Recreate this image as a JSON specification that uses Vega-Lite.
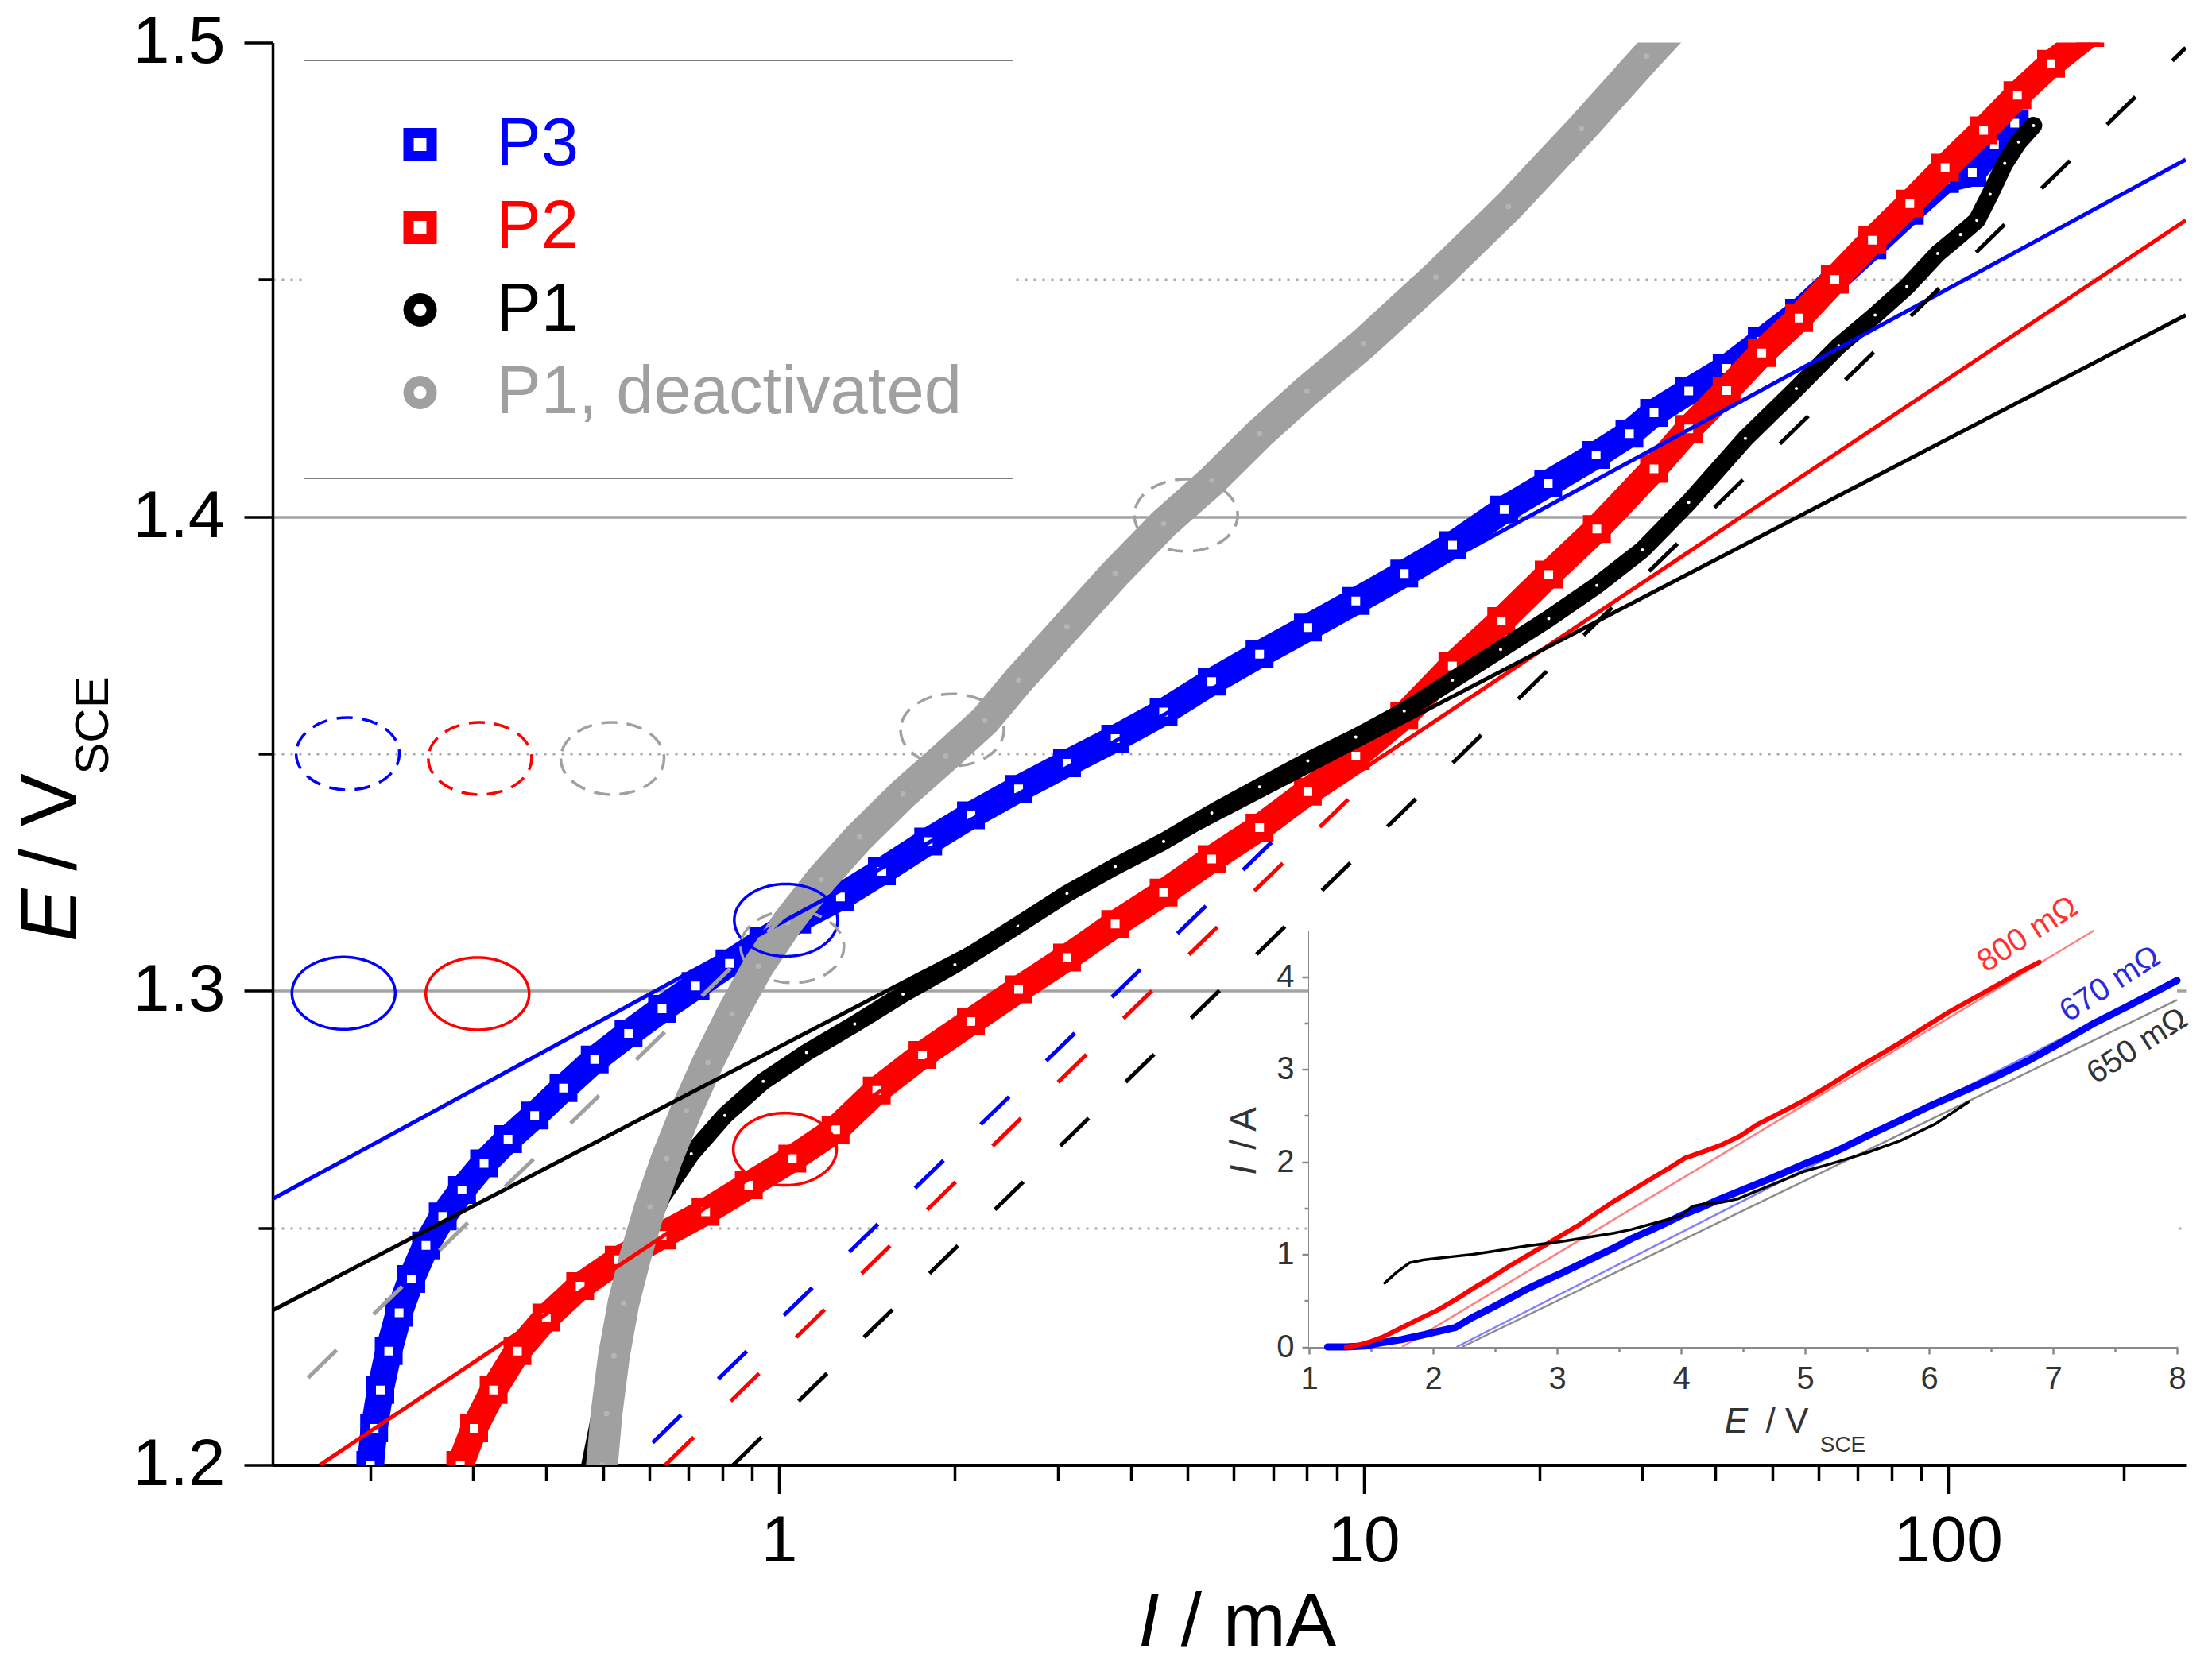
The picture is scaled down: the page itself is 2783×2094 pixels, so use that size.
{
  "$schema": "https://vega.github.io/schema/vega-lite/v6.json",
  "width": 2407,
  "height": 1790,
  "autosize": "none",
  "padding": {"left": 343, "top": 53.5, "right": 33, "bottom": 250.5},
  "background": "white",
  "config": {
    "view": {"stroke": null},
    "font": "Liberation Sans",
    "axis": {"labelFont": "Liberation Sans", "titleFont": "Liberation Sans", "titleFontWeight": "normal", "titleColor": "black", "labelColor": "black"},
    "legend": {"labelFont": "Liberation Sans"}
  },
  "datasets": {
    "bands": [
      {"series": "P3", "I": 0.200, "E": 1.2000}, {"series": "P3", "I": 0.203, "E": 1.2077}, {"series": "P3", "I": 0.208, "E": 1.2158},
      {"series": "P3", "I": 0.215, "E": 1.2240}, {"series": "P3", "I": 0.224, "E": 1.2321}, {"series": "P3", "I": 0.235, "E": 1.2392},
      {"series": "P3", "I": 0.249, "E": 1.2463}, {"series": "P3", "I": 0.266, "E": 1.2524}, {"series": "P3", "I": 0.287, "E": 1.2580},
      {"series": "P3", "I": 0.313, "E": 1.2636}, {"series": "P3", "I": 0.344, "E": 1.2687}, {"series": "P3", "I": 0.382, "E": 1.2737},
      {"series": "P3", "I": 0.428, "E": 1.2795}, {"series": "P3", "I": 0.484, "E": 1.2855}, {"series": "P3", "I": 0.553, "E": 1.2910},
      {"series": "P3", "I": 0.631, "E": 1.2962}, {"series": "P3", "I": 0.720, "E": 1.3010}, {"series": "P3", "I": 0.823, "E": 1.3058},
      {"series": "P3", "I": 0.940, "E": 1.3105}, {"series": "P3", "I": 1.074, "E": 1.3150}, {"series": "P3", "I": 1.274, "E": 1.3198},
      {"series": "P3", "I": 1.50, "E": 1.3252}, {"series": "P3", "I": 1.80, "E": 1.3315}, {"series": "P3", "I": 2.13, "E": 1.3370},
      {"series": "P3", "I": 2.57, "E": 1.3426}, {"series": "P3", "I": 3.11, "E": 1.3480}, {"series": "P3", "I": 3.76, "E": 1.3532},
      {"series": "P3", "I": 4.55, "E": 1.3588}, {"series": "P3", "I": 5.5, "E": 1.3652}, {"series": "P3", "I": 6.64, "E": 1.3710},
      {"series": "P3", "I": 8.03, "E": 1.3766}, {"series": "P3", "I": 9.7, "E": 1.3822}, {"series": "P3", "I": 11.74, "E": 1.3880},
      {"series": "P3", "I": 14.2, "E": 1.3940}, {"series": "P3", "I": 17.4, "E": 1.4015}, {"series": "P3", "I": 20.7, "E": 1.4070},
      {"series": "P3", "I": 25.0, "E": 1.4130}, {"series": "P3", "I": 28.5, "E": 1.4175}, {"series": "P3", "I": 31.4, "E": 1.4219},
      {"series": "P3", "I": 36, "E": 1.4265}, {"series": "P3", "I": 41.8, "E": 1.4313}, {"series": "P3", "I": 48, "E": 1.4370},
      {"series": "P3", "I": 55.6, "E": 1.4430}, {"series": "P3", "I": 64, "E": 1.4500}, {"series": "P3", "I": 74.2, "E": 1.4572},
      {"series": "P3", "I": 86, "E": 1.4645}, {"series": "P3", "I": 98.8, "E": 1.4712}, {"series": "P3", "I": 110, "E": 1.4725},
      {"series": "P3", "I": 120, "E": 1.4785}, {"series": "P3", "I": 130, "E": 1.4830},

      {"series": "P2", "I": 0.285, "E": 1.2000}, {"series": "P2", "I": 0.301, "E": 1.2077}, {"series": "P2", "I": 0.325, "E": 1.2158},
      {"series": "P2", "I": 0.357, "E": 1.2240}, {"series": "P2", "I": 0.400, "E": 1.2311}, {"series": "P2", "I": 0.457, "E": 1.2377},
      {"series": "P2", "I": 0.532, "E": 1.2433}, {"series": "P2", "I": 0.631, "E": 1.2484}, {"series": "P2", "I": 0.749, "E": 1.2534},
      {"series": "P2", "I": 0.888, "E": 1.2590}, {"series": "P2", "I": 1.054, "E": 1.2646}, {"series": "P2", "I": 1.25, "E": 1.2707},
      {"series": "P2", "I": 1.47, "E": 1.2790}, {"series": "P2", "I": 1.76, "E": 1.2865}, {"series": "P2", "I": 2.13, "E": 1.2935},
      {"series": "P2", "I": 2.57, "E": 1.3003}, {"series": "P2", "I": 3.11, "E": 1.3070}, {"series": "P2", "I": 3.76, "E": 1.3141},
      {"series": "P2", "I": 4.55, "E": 1.3207}, {"series": "P2", "I": 5.5, "E": 1.3278}, {"series": "P2", "I": 6.64, "E": 1.3344},
      {"series": "P2", "I": 8.03, "E": 1.3420}, {"series": "P2", "I": 9.7, "E": 1.3495}, {"series": "P2", "I": 11.74, "E": 1.3580},
      {"series": "P2", "I": 14.19, "E": 1.3685}, {"series": "P2", "I": 17.2, "E": 1.3780}, {"series": "P2", "I": 20.74, "E": 1.3878},
      {"series": "P2", "I": 25.07, "E": 1.3974}, {"series": "P2", "I": 31.4, "E": 1.4101}, {"series": "P2", "I": 36, "E": 1.4185},
      {"series": "P2", "I": 41.8, "E": 1.4266}, {"series": "P2", "I": 48, "E": 1.4345}, {"series": "P2", "I": 55.6, "E": 1.4419},
      {"series": "P2", "I": 64, "E": 1.4500}, {"series": "P2", "I": 74.2, "E": 1.4583}, {"series": "P2", "I": 86, "E": 1.4660},
      {"series": "P2", "I": 98.8, "E": 1.4736}, {"series": "P2", "I": 115, "E": 1.4815}, {"series": "P2", "I": 131.4, "E": 1.4889},
      {"series": "P2", "I": 150, "E": 1.4955}, {"series": "P2", "I": 175, "E": 1.5020},

      {"series": "P1", "I": 0.475, "E": 1.2000}, {"series": "P1", "I": 0.489, "E": 1.2077}, {"series": "P1", "I": 0.503, "E": 1.2158},
      {"series": "P1", "I": 0.522, "E": 1.2260}, {"series": "P1", "I": 0.548, "E": 1.2362}, {"series": "P1", "I": 0.580, "E": 1.2463},
      {"series": "P1", "I": 0.631, "E": 1.2565}, {"series": "P1", "I": 0.708, "E": 1.2656}, {"series": "P1", "I": 0.808, "E": 1.2737},
      {"series": "P1", "I": 0.940, "E": 1.2809}, {"series": "P1", "I": 1.115, "E": 1.2870}, {"series": "P1", "I": 1.348, "E": 1.2930},
      {"series": "P1", "I": 1.63, "E": 1.2993}, {"series": "P1", "I": 2.0, "E": 1.3055}, {"series": "P1", "I": 2.56, "E": 1.3138},
      {"series": "P1", "I": 3.11, "E": 1.3205}, {"series": "P1", "I": 3.76, "E": 1.3262}, {"series": "P1", "I": 4.55, "E": 1.3315},
      {"series": "P1", "I": 5.5, "E": 1.3375}, {"series": "P1", "I": 6.64, "E": 1.3430}, {"series": "P1", "I": 8.03, "E": 1.3485},
      {"series": "P1", "I": 9.7, "E": 1.3535}, {"series": "P1", "I": 11.74, "E": 1.3590}, {"series": "P1", "I": 14.19, "E": 1.3655},
      {"series": "P1", "I": 17.16, "E": 1.3720}, {"series": "P1", "I": 20.74, "E": 1.3785}, {"series": "P1", "I": 25.07, "E": 1.3855},
      {"series": "P1", "I": 30, "E": 1.3930}, {"series": "P1", "I": 36, "E": 1.4030}, {"series": "P1", "I": 45, "E": 1.4165},
      {"series": "P1", "I": 55, "E": 1.4270}, {"series": "P1", "I": 65, "E": 1.4360}, {"series": "P1", "I": 75, "E": 1.4425},
      {"series": "P1", "I": 85, "E": 1.4485}, {"series": "P1", "I": 96, "E": 1.4555}, {"series": "P1", "I": 105, "E": 1.4595},
      {"series": "P1", "I": 112, "E": 1.4625}, {"series": "P1", "I": 118, "E": 1.4680}, {"series": "P1", "I": 125, "E": 1.4745},
      {"series": "P1", "I": 132, "E": 1.4790}, {"series": "P1", "I": 140, "E": 1.4825},

      {"series": "P1, deactivated", "I": 0.498, "E": 1.2000}, {"series": "P1, deactivated", "I": 0.507, "E": 1.2108},
      {"series": "P1, deactivated", "I": 0.522, "E": 1.2230}, {"series": "P1, deactivated", "I": 0.542, "E": 1.2341},
      {"series": "P1, deactivated", "I": 0.569, "E": 1.2443}, {"series": "P1, deactivated", "I": 0.602, "E": 1.2544},
      {"series": "P1, deactivated", "I": 0.643, "E": 1.2646}, {"series": "P1, deactivated", "I": 0.694, "E": 1.2747},
      {"series": "P1, deactivated", "I": 0.756, "E": 1.2849}, {"series": "P1, deactivated", "I": 0.831, "E": 1.2951},
      {"series": "P1, deactivated", "I": 0.922, "E": 1.3052}, {"series": "P1, deactivated", "I": 1.034, "E": 1.3144},
      {"series": "P1, deactivated", "I": 1.181, "E": 1.3235}, {"series": "P1, deactivated", "I": 1.374, "E": 1.3325},
      {"series": "P1, deactivated", "I": 1.63, "E": 1.3415}, {"series": "P1, deactivated", "I": 1.93, "E": 1.3495},
      {"series": "P1, deactivated", "I": 2.25, "E": 1.3570}, {"series": "P1, deactivated", "I": 2.57, "E": 1.3655},
      {"series": "P1, deactivated", "I": 3.11, "E": 1.3768}, {"series": "P1, deactivated", "I": 3.76, "E": 1.3880},
      {"series": "P1, deactivated", "I": 4.55, "E": 1.3985}, {"series": "P1, deactivated", "I": 5.5, "E": 1.4075},
      {"series": "P1, deactivated", "I": 6.64, "E": 1.4175}, {"series": "P1, deactivated", "I": 8.0, "E": 1.4265},
      {"series": "P1, deactivated", "I": 10.0, "E": 1.4365}, {"series": "P1, deactivated", "I": 13.3, "E": 1.4505},
      {"series": "P1, deactivated", "I": 17.7, "E": 1.4654}, {"series": "P1, deactivated", "I": 23.6, "E": 1.4818},
      {"series": "P1, deactivated", "I": 30.5, "E": 1.4971}, {"series": "P1, deactivated", "I": 33.8, "E": 1.5030}
    ],
    "fits": [
      {"fit": "P3 tafel", "series": "P3", "kind": "fit", "I": 0.1361, "E": 1.2561},
      {"fit": "P3 tafel", "series": "P3", "kind": "fit", "I": 255, "E": 1.4753},
      {"fit": "P2 tafel", "series": "P2", "kind": "fit", "I": 0.164, "E": 1.2},
      {"fit": "P2 tafel", "series": "P2", "kind": "fit", "I": 255, "E": 1.4625},
      {"fit": "P1 tafel", "series": "P1", "kind": "fit", "I": 0.1361, "E": 1.2326},
      {"fit": "P1 tafel", "series": "P1", "kind": "fit", "I": 255, "E": 1.4425},
      {"fit": "P3 shifted", "series": "P3", "kind": "shifted", "I": 0.608, "E": 1.2047},
      {"fit": "P3 shifted", "series": "P3", "kind": "shifted", "I": 6.97, "E": 1.3314},
      {"fit": "P2 shifted", "series": "P2", "kind": "shifted", "I": 0.639, "E": 1.2},
      {"fit": "P2 shifted", "series": "P2", "kind": "shifted", "I": 9.53, "E": 1.341},
      {"fit": "P1 shifted", "series": "P1", "kind": "shifted", "I": 0.835, "E": 1.2},
      {"fit": "P1 shifted", "series": "P1", "kind": "shifted", "I": 255, "E": 1.4989},
      {"fit": "P1d shifted", "series": "P1, deactivated", "kind": "shifted", "I": 0.1565, "E": 1.2184},
      {"fit": "P1d shifted", "series": "P1, deactivated", "kind": "shifted", "I": 1.054, "E": 1.3174}
    ],
    "rings": [
      {"series": "P3", "kind": "ring-dash", "I": 0.183, "E": 1.35},
      {"series": "P2", "kind": "ring-dash", "I": 0.308, "E": 1.349},
      {"series": "P1, deactivated", "kind": "ring-dash", "I": 0.519, "E": 1.349},
      {"series": "P3", "kind": "ring", "I": 0.180, "E": 1.2995},
      {"series": "P2", "kind": "ring", "I": 0.305, "E": 1.2994},
      {"series": "P3", "kind": "ring", "I": 1.028, "E": 1.3149},
      {"series": "P2", "kind": "ring", "I": 1.024, "E": 1.2666},
      {"series": "P1, deactivated", "kind": "ring-dash", "I": 1.054, "E": 1.3093},
      {"series": "P1, deactivated", "kind": "ring-dash", "I": 1.979, "E": 1.355},
      {"series": "P1, deactivated", "kind": "ring-dash", "I": 4.97, "E": 1.4003}
    ],
    "inset": [
      {"series": "P3", "E": 1.15, "I": 0}, {"series": "P3", "E": 1.3, "I": 0}, {"series": "P3", "E": 1.45, "I": 0.01},
      {"series": "P3", "E": 1.6, "I": 0.05}, {"series": "P3", "E": 1.75, "I": 0.08}, {"series": "P3", "E": 1.92, "I": 0.13},
      {"series": "P3", "E": 2.05, "I": 0.17}, {"series": "P3", "E": 2.18, "I": 0.21}, {"series": "P3", "E": 2.32, "I": 0.32},
      {"series": "P3", "E": 2.47, "I": 0.42}, {"series": "P3", "E": 2.61, "I": 0.52}, {"series": "P3", "E": 2.75, "I": 0.62},
      {"series": "P3", "E": 2.89, "I": 0.71}, {"series": "P3", "E": 3.04, "I": 0.80}, {"series": "P3", "E": 3.18, "I": 0.89},
      {"series": "P3", "E": 3.32, "I": 0.98}, {"series": "P3", "E": 3.46, "I": 1.07}, {"series": "P3", "E": 3.6, "I": 1.17},
      {"series": "P3", "E": 3.75, "I": 1.26}, {"series": "P3", "E": 3.88, "I": 1.34}, {"series": "P3", "E": 4.0, "I": 1.42},
      {"series": "P3", "E": 4.15, "I": 1.50}, {"series": "P3", "E": 4.3, "I": 1.59}, {"series": "P3", "E": 4.5, "I": 1.70},
      {"series": "P3", "E": 4.74, "I": 1.83}, {"series": "P3", "E": 5.0, "I": 1.98}, {"series": "P3", "E": 5.26, "I": 2.12},
      {"series": "P3", "E": 5.5, "I": 2.28}, {"series": "P3", "E": 5.77, "I": 2.45}, {"series": "P3", "E": 6.0, "I": 2.60},
      {"series": "P3", "E": 6.29, "I": 2.77}, {"series": "P3", "E": 6.55, "I": 2.93}, {"series": "P3", "E": 6.81, "I": 3.10},
      {"series": "P3", "E": 7.05, "I": 3.28}, {"series": "P3", "E": 7.32, "I": 3.49}, {"series": "P3", "E": 7.6, "I": 3.68},
      {"series": "P3", "E": 7.8, "I": 3.82}, {"series": "P3", "E": 8.0, "I": 3.96},

      {"series": "P2", "E": 1.3, "I": 0}, {"series": "P2", "E": 1.4, "I": 0.02}, {"series": "P2", "E": 1.5, "I": 0.06},
      {"series": "P2", "E": 1.6, "I": 0.11}, {"series": "P2", "E": 1.75, "I": 0.21}, {"series": "P2", "E": 1.9, "I": 0.31},
      {"series": "P2", "E": 2.04, "I": 0.40}, {"series": "P2", "E": 2.18, "I": 0.51}, {"series": "P2", "E": 2.32, "I": 0.63},
      {"series": "P2", "E": 2.47, "I": 0.75}, {"series": "P2", "E": 2.61, "I": 0.87}, {"series": "P2", "E": 2.75, "I": 0.98},
      {"series": "P2", "E": 2.89, "I": 1.09}, {"series": "P2", "E": 3.04, "I": 1.21}, {"series": "P2", "E": 3.18, "I": 1.32},
      {"series": "P2", "E": 3.32, "I": 1.45}, {"series": "P2", "E": 3.46, "I": 1.575}, {"series": "P2", "E": 3.6, "I": 1.69},
      {"series": "P2", "E": 3.75, "I": 1.81}, {"series": "P2", "E": 3.9, "I": 1.93}, {"series": "P2", "E": 4.03, "I": 2.04},
      {"series": "P2", "E": 4.2, "I": 2.12}, {"series": "P2", "E": 4.32, "I": 2.18}, {"series": "P2", "E": 4.49, "I": 2.29},
      {"series": "P2", "E": 4.61, "I": 2.40}, {"series": "P2", "E": 4.8, "I": 2.53}, {"series": "P2", "E": 5.0, "I": 2.67},
      {"series": "P2", "E": 5.2, "I": 2.83}, {"series": "P2", "E": 5.39, "I": 2.99}, {"series": "P2", "E": 5.58, "I": 3.14},
      {"series": "P2", "E": 5.77, "I": 3.29}, {"series": "P2", "E": 5.97, "I": 3.46}, {"series": "P2", "E": 6.16, "I": 3.62},
      {"series": "P2", "E": 6.35, "I": 3.76}, {"series": "P2", "E": 6.55, "I": 3.91}, {"series": "P2", "E": 6.72, "I": 4.04},
      {"series": "P2", "E": 6.89, "I": 4.16},

      {"series": "P1", "E": 1.61, "I": 0.69}, {"series": "P1", "E": 1.7, "I": 0.80}, {"series": "P1", "E": 1.81, "I": 0.91},
      {"series": "P1", "E": 1.92, "I": 0.94}, {"series": "P1", "E": 2.04, "I": 0.96}, {"series": "P1", "E": 2.18, "I": 0.98},
      {"series": "P1", "E": 2.32, "I": 1.00}, {"series": "P1", "E": 2.47, "I": 1.03}, {"series": "P1", "E": 2.61, "I": 1.06},
      {"series": "P1", "E": 2.75, "I": 1.09}, {"series": "P1", "E": 2.89, "I": 1.115}, {"series": "P1", "E": 3.04, "I": 1.14},
      {"series": "P1", "E": 3.18, "I": 1.17}, {"series": "P1", "E": 3.32, "I": 1.20}, {"series": "P1", "E": 3.46, "I": 1.23},
      {"series": "P1", "E": 3.6, "I": 1.27}, {"series": "P1", "E": 3.75, "I": 1.325}, {"series": "P1", "E": 3.9, "I": 1.38},
      {"series": "P1", "E": 4.0, "I": 1.42}, {"series": "P1", "E": 4.09, "I": 1.52}, {"series": "P1", "E": 4.2, "I": 1.55},
      {"series": "P1", "E": 4.32, "I": 1.56}, {"series": "P1", "E": 4.46, "I": 1.60}, {"series": "P1", "E": 4.6, "I": 1.68},
      {"series": "P1", "E": 4.8, "I": 1.79}, {"series": "P1", "E": 5.0, "I": 1.90}, {"series": "P1", "E": 5.26, "I": 2.00},
      {"series": "P1", "E": 5.5, "I": 2.10}, {"series": "P1", "E": 5.77, "I": 2.23}, {"series": "P1", "E": 6.05, "I": 2.41},
      {"series": "P1", "E": 6.32, "I": 2.65}
    ],
    "insetfits": [
      {"series": "P2", "E": 1.75, "I": 0}, {"series": "P2", "E": 7.33, "I": 4.5},
      {"series": "P3", "E": 2.19, "I": 0}, {"series": "P3", "E": 8.0, "I": 3.97},
      {"series": "P1", "E": 2.235, "I": 0}, {"series": "P1", "E": 8.0, "I": 3.75}
    ],
    "insetnotes": [
      {"series": "P2", "label": "800 mΩ", "E": 6.795, "I": 4.457},
      {"series": "P3", "label": "670 mΩ", "E": 7.46, "I": 3.92},
      {"series": "P1", "label": "650 mΩ", "E": 7.68, "I": 3.25}
    ]
  },
  "layer": [
    {
      "layer": [
        {
          "data": {"name": "bands"},
          "transform": [{"filter": "datum.series === 'P3'"}],
          "mark": {"type": "line", "color": "#0000ff", "strokeWidth": 34, "strokeJoin": "round", "strokeCap": "round", "clip": true},
          "encoding": {
            "x": {"field": "I", "type": "quantitative", "scale": {"type": "log", "domain": [0.1361, 255], "nice": false},
              "axis": {"orient": "bottom", "values": [1, 10, 100], "format": "~g", "tickSize": 36, "tickWidth": 3.5, "tickColor": "black",
                "domainColor": "black", "domainWidth": 4, "labelFontSize": 82, "labelPadding": 20, "labelFlush": false, "labelOverlap": false,
                "grid": false, "title": "I", "titleFontStyle": "italic", "titleFontSize": 95, "titleX": 1102, "titleY": 227,
                "titleAlign": "center", "titleBaseline": "alphabetic", "titleAngle": 0}},
            "y": {"field": "E", "type": "quantitative", "scale": {"domain": [1.2, 1.5], "nice": false, "zero": false},
              "axis": {"orient": "left", "values": [1.2, 1.3, 1.4, 1.5], "format": ".1f", "tickSize": 36, "tickWidth": 3.5, "tickColor": "black",
                "domainColor": "black", "domainWidth": 3.5, "labelFontSize": 84, "labelPadding": 24, "labelFlush": false, "labelOverlap": false,
                "grid": false, "title": "E", "titleFontStyle": "italic", "titleFontSize": 100, "titleX": -248, "titleY": 1098,
                "titleAngle": -90, "titleAlign": "center", "titleBaseline": "alphabetic"}}
          }
        },
        {
          "data": {"name": "bands"},
          "transform": [{"filter": "datum.series === 'P3'"}],
          "mark": {"type": "point", "filled": false, "fill": "white", "strokeWidth": 12, "size": 529, "opacity": 1, "clip": true},
          "encoding": {
            "x": {"field": "I", "type": "quantitative", "scale": {"type": "log", "domain": [0.1361, 255], "nice": false},
              "axis": {"orient": "bottom", "values": [0.2, 0.3, 0.4, 0.5, 0.6, 0.7, 0.8, 0.9, 2, 3, 4, 5, 6, 7, 8, 9, 20, 30, 40, 50, 60, 70, 80, 90, 200],
                "tickSize": 20, "tickWidth": 3.5, "tickColor": "black", "domain": false, "labels": false, "grid": false,
                "title": "/ mA", "titleFontSize": 95, "titleX": 1240, "titleY": 227, "titleAlign": "center", "titleBaseline": "alphabetic", "titleAngle": 0}},
            "y": {"field": "E", "type": "quantitative", "scale": {"domain": [1.2, 1.5], "nice": false, "zero": false},
              "axis": {"orient": "left", "values": [1.25, 1.35, 1.45], "tickSize": 18, "tickWidth": 3.5, "tickColor": "black",
                "domain": false, "labels": false, "grid": true, "gridDash": [3, 8], "gridColor": "#a8a8a8", "gridWidth": 3,
                "title": "/ V", "titleFontSize": 100, "titleX": -248, "titleY": 980.5, "titleAngle": -90, "titleAlign": "center", "titleBaseline": "alphabetic"}},
            "color": {"field": "series", "type": "nominal",
              "scale": {"domain": ["P3", "P2", "P1", "P1, deactivated"], "range": ["#0000ff", "#ff0000", "#000000", "#a0a0a0"]},
              "legend": {"orient": "none", "legendX": 39, "legendY": 22, "title": null, "padding": 64, "symbolOffset": 40, "labelOffset": 53,
                "rowPadding": 18, "labelFontSize": 85, "labelLimit": 1200, "symbolSize": 841, "symbolStrokeWidth": 13,
                "strokeColor": "black", "fillColor": "white",
                "encoding": {
                  "labels": {"fill": {"condition": [{"test": "datum.value === 'P3'", "value": "#0000ff"}, {"test": "datum.value === 'P2'", "value": "#ff0000"}, {"test": "datum.value === 'P1'", "value": "#000000"}], "value": "#a0a0a0"}},
                  "symbols": {"fill": {"value": "white"}}
                }}},
            "shape": {"field": "series", "type": "nominal",
              "scale": {"domain": ["P3", "P2", "P1", "P1, deactivated"], "range": ["square", "square", "circle", "circle"]},
              "legend": {"orient": "none", "legendX": 39, "legendY": 22, "title": null, "padding": 64, "symbolOffset": 40, "labelOffset": 53,
                "rowPadding": 18, "labelFontSize": 85, "labelLimit": 1200, "symbolSize": 841, "symbolStrokeWidth": 13,
                "strokeColor": "black", "fillColor": "white",
                "encoding": {
                  "labels": {"fill": {"condition": [{"test": "datum.value === 'P3'", "value": "#0000ff"}, {"test": "datum.value === 'P2'", "value": "#ff0000"}, {"test": "datum.value === 'P1'", "value": "#000000"}], "value": "#a0a0a0"}},
                  "symbols": {"fill": {"value": "white"}}
                }}}
          }
        },
        {
          "data": {"name": "bands"},
          "transform": [{"filter": "datum.series === 'P2'"}],
          "mark": {"type": "line", "color": "#ff0000", "strokeWidth": 34, "strokeJoin": "round", "strokeCap": "round", "clip": true},
          "encoding": {
            "x": {"field": "I", "type": "quantitative", "scale": {"type": "log", "domain": [0.1361, 255], "nice": false}, "axis": null},
            "y": {"field": "E", "type": "quantitative", "scale": {"domain": [1.2, 1.5], "nice": false, "zero": false},
              "axis": {"orient": "left", "values": [1.3, 1.4], "ticks": false, "labels": false, "domain": false, "grid": true,
                "gridColor": "#a3a3a3", "gridWidth": 3.5,
                "title": "SCE", "titleFontSize": 60, "titleX": -208, "titleY": 859, "titleAngle": -90, "titleAlign": "center", "titleBaseline": "alphabetic"}}
          }
        },
        {
          "data": {"name": "bands"},
          "transform": [{"filter": "datum.series === 'P2'"}],
          "mark": {"type": "point", "filled": false, "fill": "white", "strokeWidth": 12, "size": 529, "opacity": 1, "clip": true},
          "encoding": {
            "x": {"field": "I", "type": "quantitative", "scale": {"type": "log", "domain": [0.1361, 255], "nice": false}, "axis": null},
            "y": {"field": "E", "type": "quantitative", "scale": {"domain": [1.2, 1.5], "nice": false, "zero": false}, "axis": null},
            "color": {"field": "series", "type": "nominal",
              "scale": {"domain": ["P3", "P2", "P1", "P1, deactivated"], "range": ["#0000ff", "#ff0000", "#000000", "#a0a0a0"]}, "legend": null},
            "shape": {"field": "series", "type": "nominal",
              "scale": {"domain": ["P3", "P2", "P1", "P1, deactivated"], "range": ["square", "square", "circle", "circle"]}, "legend": null}
          }
        },
        {
          "data": {"name": "bands"},
          "transform": [{"filter": "datum.series === 'P1'"}],
          "mark": {"type": "line", "color": "#000000", "strokeWidth": 22, "strokeJoin": "round", "strokeCap": "round", "clip": true},
          "encoding": {
            "x": {"field": "I", "type": "quantitative", "scale": {"type": "log", "domain": [0.1361, 255], "nice": false}, "axis": null},
            "y": {"field": "E", "type": "quantitative", "scale": {"domain": [1.2, 1.5], "nice": false, "zero": false}, "axis": null}
          }
        },
        {
          "data": {"name": "bands"},
          "transform": [{"filter": "datum.series === 'P1'"}],
          "mark": {"type": "point", "filled": false, "fill": "white", "strokeWidth": 3, "size": 50, "opacity": 1, "clip": true},
          "encoding": {
            "x": {"field": "I", "type": "quantitative", "scale": {"type": "log", "domain": [0.1361, 255], "nice": false}, "axis": null},
            "y": {"field": "E", "type": "quantitative", "scale": {"domain": [1.2, 1.5], "nice": false, "zero": false}, "axis": null},
            "color": {"field": "series", "type": "nominal",
              "scale": {"domain": ["P3", "P2", "P1", "P1, deactivated"], "range": ["#0000ff", "#ff0000", "#000000", "#a0a0a0"]}, "legend": null},
            "shape": {"field": "series", "type": "nominal",
              "scale": {"domain": ["P3", "P2", "P1", "P1, deactivated"], "range": ["square", "square", "circle", "circle"]}, "legend": null}
          }
        },
        {
          "data": {"name": "bands"},
          "transform": [{"filter": "datum.series === 'P1, deactivated'"}],
          "mark": {"type": "line", "color": "#a0a0a0", "strokeWidth": 40, "strokeJoin": "round", "strokeCap": "round", "clip": true},
          "encoding": {
            "x": {"field": "I", "type": "quantitative", "scale": {"type": "log", "domain": [0.1361, 255], "nice": false}, "axis": null},
            "y": {"field": "E", "type": "quantitative", "scale": {"domain": [1.2, 1.5], "nice": false, "zero": false}, "axis": null}
          }
        },
        {
          "data": {"name": "bands"},
          "transform": [{"filter": "datum.series === 'P1, deactivated'"}],
          "mark": {"type": "point", "filled": false, "fill": "#b4b4b4", "strokeWidth": 4, "size": 120, "opacity": 1, "clip": true},
          "encoding": {
            "x": {"field": "I", "type": "quantitative", "scale": {"type": "log", "domain": [0.1361, 255], "nice": false}, "axis": null},
            "y": {"field": "E", "type": "quantitative", "scale": {"domain": [1.2, 1.5], "nice": false, "zero": false}, "axis": null},
            "color": {"field": "series", "type": "nominal",
              "scale": {"domain": ["P3", "P2", "P1", "P1, deactivated"], "range": ["#0000ff", "#ff0000", "#000000", "#a0a0a0"]}, "legend": null},
            "shape": {"field": "series", "type": "nominal",
              "scale": {"domain": ["P3", "P2", "P1", "P1, deactivated"], "range": ["square", "square", "circle", "circle"]}, "legend": null}
          }
        },
        {
          "data": {"name": "fits"},
          "mark": {"type": "line", "strokeWidth": 5, "clip": true},
          "encoding": {
            "x": {"field": "I", "type": "quantitative", "scale": {"type": "log", "domain": [0.1361, 255], "nice": false}, "axis": null},
            "y": {"field": "E", "type": "quantitative", "scale": {"domain": [1.2, 1.5], "nice": false, "zero": false}, "axis": null},
            "detail": {"field": "fit"},
            "stroke": {"field": "series", "type": "nominal",
              "scale": {"domain": ["P3", "P2", "P1", "P1, deactivated"], "range": ["#0000ff", "#ff0000", "#000000", "#a0a0a0"]}, "legend": null},
            "strokeDash": {"field": "kind", "type": "nominal",
              "scale": {"domain": ["fit", "shifted", "ring", "ring-dash"], "range": [[1, 0], [50, 65], [1, 0], [20, 12]]}, "legend": null}
          }
        },
        {
          "data": {"name": "rings"},
          "mark": {"type": "point", "shape": "M -1 0 A 1 0.7 0 1 0 1 0 A 1 0.7 0 1 0 -1 0 Z", "size": 16900, "filled": false, "strokeWidth": 3.5, "opacity": 1},
          "encoding": {
            "x": {"field": "I", "type": "quantitative", "scale": {"type": "log", "domain": [0.1361, 255], "nice": false}, "axis": null},
            "y": {"field": "E", "type": "quantitative", "scale": {"domain": [1.2, 1.5], "nice": false, "zero": false}, "axis": null},
            "stroke": {"field": "series", "type": "nominal",
              "scale": {"domain": ["P3", "P2", "P1", "P1, deactivated"], "range": ["#0000ff", "#ff0000", "#000000", "#a0a0a0"]}, "legend": null},
            "strokeDash": {"field": "kind", "type": "nominal",
              "scale": {"domain": ["fit", "shifted", "ring", "ring-dash"], "range": [[1, 0], [50, 65], [1, 0], [20, 12]]}, "legend": null}
          }
        }
      ],
      "resolve": {"axis": {"x": "independent", "y": "independent"}}
    },
    {
      "layer": [
        {
          "data": {"values": [{}]},
          "mark": {"type": "rect", "color": "white"},
          "encoding": {
            "x": {"datum": 1, "type": "quantitative", "scale": {"domain": [1, 8], "range": [1304, 2396], "nice": false, "zero": false}, "axis": null},
            "x2": {"datum": 8},
            "y": {"datum": 0, "type": "quantitative", "scale": {"domain": [0, 4.5], "range": [1641.5, 1117.5], "nice": false, "zero": false}, "axis": null},
            "y2": {"datum": 4.5}
          }
        },
        {
          "data": {"name": "insetfits"},
          "mark": {"type": "line", "strokeWidth": 2.5},
          "encoding": {
            "x": {"field": "E", "type": "quantitative", "scale": {"domain": [1, 8], "range": [1304, 2396], "nice": false, "zero": false}, "axis": null},
            "y": {"field": "I", "type": "quantitative", "scale": {"domain": [0, 4.5], "range": [1641.5, 1117.5], "nice": false, "zero": false}, "axis": null},
            "stroke": {"field": "series", "type": "nominal",
              "scale": {"domain": ["P3", "P2", "P1"], "range": ["#8080ff", "#ff8080", "#8c8c8c"]}, "legend": null}
          }
        },
        {
          "data": {"name": "inset"},
          "transform": [{"filter": "datum.series === 'P3'"}],
          "mark": {"type": "line", "color": "#0000ff", "strokeWidth": 9, "strokeCap": "round"},
          "encoding": {
            "x": {"field": "E", "type": "quantitative", "scale": {"domain": [1, 8], "range": [1304, 2396], "nice": false, "zero": false},
              "axis": {"orient": "bottom", "offset": -148.5, "values": [1, 2, 3, 4, 5, 6, 7, 8], "format": "d",
                "domainColor": "#8a8a8a", "domainWidth": 3, "tickColor": "#8a8a8a", "tickWidth": 2.5, "tickSize": 9,
                "labelFontSize": 40, "labelColor": "#333333", "labelPadding": 11, "labelFlush": false, "labelOverlap": false, "grid": false,
                "title": "E", "titleFontStyle": "italic", "titleFontSize": 44, "titleColor": "#333333", "titleX": 1841, "titleY": 107,
                "titleAlign": "center", "titleBaseline": "alphabetic", "titleAngle": 0}},
            "y": {"field": "I", "type": "quantitative", "scale": {"domain": [0, 4.5], "range": [1641.5, 1117.5], "nice": false, "zero": false},
              "axis": {"orient": "left", "offset": -1304, "values": [0, 1, 2, 3, 4], "format": "d",
                "domainColor": "#8a8a8a", "domainWidth": 3, "tickColor": "#8a8a8a", "tickWidth": 2.5, "tickSize": 9,
                "labelFontSize": 40, "labelColor": "#333333", "labelPadding": 10, "labelFlush": false, "labelOverlap": false, "grid": false,
                "title": "I", "titleFontStyle": "italic", "titleFontSize": 46, "titleColor": "#333333", "titleX": -68, "titleY": 1418,
                "titleAngle": -90, "titleAlign": "center", "titleBaseline": "alphabetic"}}
          }
        },
        {
          "data": {"name": "inset"},
          "transform": [{"filter": "datum.series === 'P2'"}],
          "mark": {"type": "line", "color": "#ff0000", "strokeWidth": 6, "strokeCap": "round"},
          "encoding": {
            "x": {"field": "E", "type": "quantitative", "scale": {"domain": [1, 8], "range": [1304, 2396], "nice": false, "zero": false},
              "axis": {"orient": "bottom", "offset": -148.5, "values": [1.5, 2.5, 3.5, 4.5, 5.5, 6.5, 7.5],
                "domain": false, "labels": false, "grid": false, "tickColor": "#8a8a8a", "tickWidth": 2.5, "tickSize": 6,
                "title": "/ V", "titleFontSize": 44, "titleColor": "#333333", "titleX": 1905, "titleY": 107,
                "titleAlign": "center", "titleBaseline": "alphabetic", "titleAngle": 0}},
            "y": {"field": "I", "type": "quantitative", "scale": {"domain": [0, 4.5], "range": [1641.5, 1117.5], "nice": false, "zero": false},
              "axis": {"orient": "left", "offset": -1304, "values": [0.5, 1.5, 2.5, 3.5],
                "domain": false, "labels": false, "grid": false, "tickColor": "#8a8a8a", "tickWidth": 2.5, "tickSize": 6,
                "title": "/ A", "titleFontSize": 46, "titleColor": "#333333", "titleX": -68, "titleY": 1366,
                "titleAngle": -90, "titleAlign": "center", "titleBaseline": "alphabetic"}}
          }
        },
        {
          "data": {"name": "inset"},
          "transform": [{"filter": "datum.series === 'P1'"}],
          "mark": {"type": "line", "color": "#000000", "strokeWidth": 3.5, "strokeCap": "round"},
          "encoding": {
            "x": {"field": "E", "type": "quantitative", "scale": {"domain": [1, 8], "range": [1304, 2396], "nice": false, "zero": false},
              "axis": {"orient": "bottom", "offset": -148.5, "domain": false, "ticks": false, "labels": false, "grid": false,
                "title": "SCE", "titleFontSize": 28, "titleColor": "#333333", "titleX": 1975, "titleY": 131,
                "titleAlign": "center", "titleBaseline": "alphabetic", "titleAngle": 0}},
            "y": {"field": "I", "type": "quantitative", "scale": {"domain": [0, 4.5], "range": [1641.5, 1117.5], "nice": false, "zero": false}, "axis": null}
          }
        },
        {
          "data": {"name": "insetnotes"},
          "mark": {"type": "text", "angle": -33, "fontSize": 40, "align": "center", "baseline": "middle", "font": "Liberation Sans"},
          "encoding": {
            "x": {"field": "E", "type": "quantitative", "scale": {"domain": [1, 8], "range": [1304, 2396], "nice": false, "zero": false}, "axis": null},
            "y": {"field": "I", "type": "quantitative", "scale": {"domain": [0, 4.5], "range": [1641.5, 1117.5], "nice": false, "zero": false}, "axis": null},
            "text": {"field": "label"},
            "color": {"field": "series", "type": "nominal",
              "scale": {"domain": ["P3", "P2", "P1"], "range": ["#2b2bd9", "#ff3030", "#333333"]}, "legend": null}
          }
        }
      ],
      "resolve": {"axis": {"x": "independent", "y": "independent"}}
    }
  ],
  "resolve": {
    "scale": {"x": "independent", "y": "independent", "color": "independent", "stroke": "independent", "strokeDash": "independent", "shape": "independent"},
    "axis": {"x": "independent", "y": "independent"}
  }
}
